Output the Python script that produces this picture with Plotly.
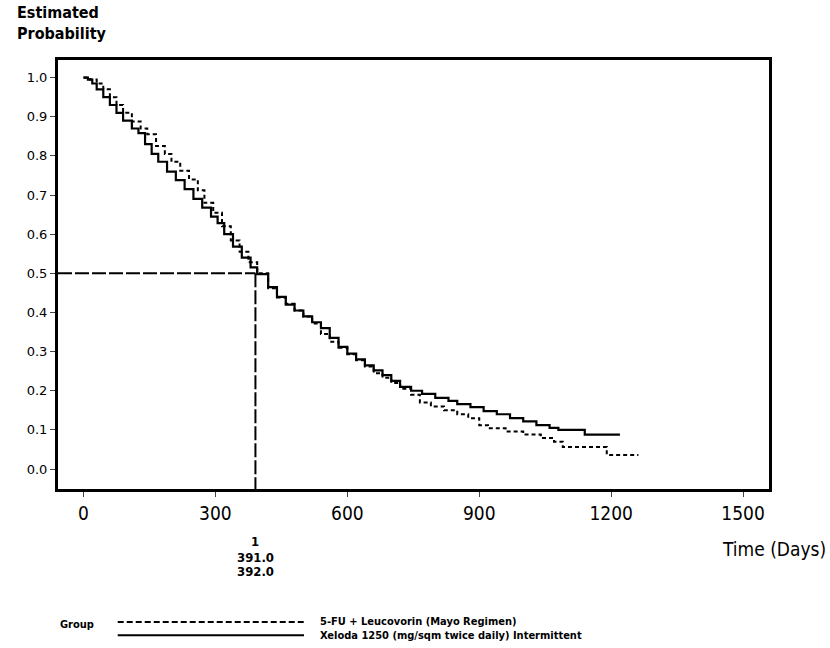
import plotly.graph_objects as go

# Kaplan-Meier estimates
xeloda_days = [0, 10, 20, 30, 45, 60, 75, 90, 110, 125, 140, 155, 170, 190, 210, 230, 250, 270, 290, 305,
               320, 340, 360, 380, 395, 420, 440, 460, 480, 500, 520, 540, 560, 580, 600, 620, 640, 660,
               680, 700, 720, 745, 770, 800, 830, 850, 880, 910, 940, 970, 1000, 1030, 1060, 1080, 1140, 1220]
xeloda_prob = [1.000, 0.995, 0.985, 0.970, 0.950, 0.930, 0.910, 0.890, 0.870, 0.858, 0.830, 0.805, 0.785,
               0.760, 0.738, 0.715, 0.690, 0.668, 0.645, 0.628, 0.600, 0.568, 0.540, 0.515, 0.498, 0.465,
               0.440, 0.420, 0.405, 0.390, 0.375, 0.360, 0.335, 0.312, 0.295, 0.280, 0.265, 0.252, 0.240,
               0.225, 0.210, 0.200, 0.192, 0.182, 0.174, 0.166, 0.158, 0.148, 0.140, 0.130, 0.122, 0.112,
               0.105, 0.100, 0.088, 0.088]

fu_days = [0, 15, 30, 45, 60, 75, 90, 110, 130, 145, 165, 185, 200, 220, 240, 260, 275, 295, 315, 335,
           355, 375, 395, 420, 440, 460, 480, 500, 520, 540, 560, 580, 600, 620, 640, 660, 680, 700, 720,
           745, 765, 790, 820, 850, 875, 900, 920, 960, 1000, 1040, 1070, 1090, 1190, 1262]
fu_prob = [1.000, 0.995, 0.985, 0.970, 0.950, 0.930, 0.910, 0.888, 0.870, 0.855, 0.825, 0.805, 0.785,
           0.762, 0.740, 0.712, 0.680, 0.655, 0.620, 0.584, 0.555, 0.528, 0.500, 0.462, 0.438, 0.422,
           0.405, 0.390, 0.372, 0.345, 0.325, 0.310, 0.293, 0.278, 0.262, 0.245, 0.233, 0.220, 0.205,
           0.190, 0.170, 0.160, 0.150, 0.140, 0.130, 0.112, 0.104, 0.096, 0.088, 0.079, 0.070, 0.056,
           0.036, 0.036]

median_day = 391.0
median_prob = 0.5
median_labels = ["1", "391.0", "392.0"]

x_ticks = [0, 300, 600, 900, 1200, 1500]
y_ticks = [0.0, 0.1, 0.2, 0.3, 0.4, 0.5, 0.6, 0.7, 0.8, 0.9, 1.0]
y_ticktext = ["0.0", "0.1", "0.2", "0.3", "0.4", "0.5", "0.6", "0.7", "0.8", "0.9", "1.0"]

group_names = ["5-FU + Leucovorin (Mayo Regimen)", "Xeloda 1250 (mg/sqm twice daily) Intermittent"]

FONT = "Liberation Sans Narrow, DejaVu Sans Condensed, Arial Narrow, sans-serif"

fig = go.Figure()
fig.add_trace(go.Scatter(x=fu_days, y=fu_prob, mode="lines", line_shape="hv",
                         line=dict(color="black", width=2, dash="4px,3px"), name=group_names[0],
                         showlegend=False))
fig.add_trace(go.Scatter(x=xeloda_days, y=xeloda_prob, mode="lines", line_shape="hv",
                         line=dict(color="black", width=2.2), name=group_names[1], showlegend=False))
# median reference lines
fig.add_trace(go.Scatter(x=[-58, median_day], y=[median_prob, median_prob], mode="lines",
                         line=dict(color="black", width=2, dash="14px,3px"), showlegend=False))
fig.add_trace(go.Scatter(x=[median_day, median_day], y=[median_prob, -0.051], mode="lines",
                         line=dict(color="black", width=2, dash="14px,3px"), showlegend=False))

fig.update_layout(
    width=830, height=648,
    margin=dict(l=58, r=61, t=60, b=159),
    paper_bgcolor="white", plot_bgcolor="white",
    font=dict(family=FONT, color="black"),
    xaxis=dict(range=[-58, 1559], tickvals=x_ticks, ticks="outside", ticklen=5, tickwidth=1,
               showline=True, linewidth=3, linecolor="black", mirror=True, showgrid=False,
               zeroline=False, tickfont=dict(size=19, family=FONT)),
    yaxis=dict(range=[-0.051, 1.045], tickvals=y_ticks, ticktext=y_ticktext, ticks="outside",
               ticklen=5, tickwidth=1, showline=True, linewidth=3, linecolor="black", mirror=True,
               showgrid=False, zeroline=False, tickfont=dict(size=13, family="DejaVu Sans")),
)

ann = []
ann.append(dict(text="<b>Estimated<br>Probability</b>", xref="paper", yref="paper", x=-0.06, y=1.035,
                xanchor="left", yanchor="bottom", showarrow=False, align="left",
                font=dict(size=16, family=FONT)))
ann.append(dict(text="Time (Days)", x=1.083, xref="paper", y=-0.14, yref="paper", xanchor="right",
                yanchor="middle", showarrow=False, font=dict(size=19, family=FONT)))
label_y = [-0.122, -0.16, -0.193]
for lab, ly in zip(median_labels, label_y):
    ann.append(dict(text="<b>" + lab + "</b>", x=median_day, xref="x", y=ly,
                    yref="paper", xanchor="center", yanchor="middle", showarrow=False,
                    font=dict(size=13, family=FONT)))
ann.append(dict(text="<b>Group</b>", xref="paper", yref="paper", x=0.0, y=-0.315, xanchor="left",
                yanchor="middle", showarrow=False, font=dict(size=11, family=FONT)))
for i, nm in enumerate(group_names):
    ann.append(dict(text="<b>" + nm + "</b>", xref="paper", yref="paper", x=0.365, y=-0.31 - i * 0.031,
                    xanchor="left", yanchor="middle", showarrow=False, font=dict(size=11, family=FONT)))
fig.update_layout(annotations=ann)

fig.add_shape(type="line", xref="paper", yref="paper", x0=0.084, x1=0.346, y0=-0.31, y1=-0.31,
              line=dict(color="black", width=2, dash="6px,3px"))
fig.add_shape(type="line", xref="paper", yref="paper", x0=0.084, x1=0.346, y0=-0.341, y1=-0.341,
              line=dict(color="black", width=2))

fig.write_html("out.html", config={"displayModeBar": False},
               post_script="document.body.style.margin='0';")
